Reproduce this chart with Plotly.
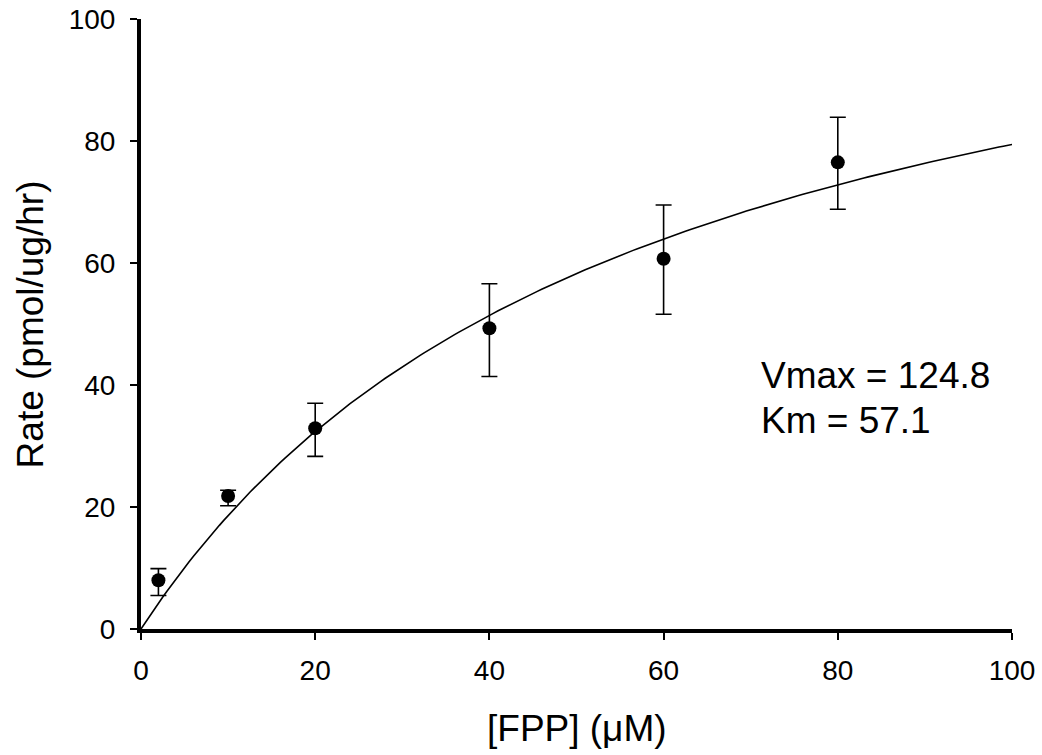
import numpy as np
import plotly.graph_objects as go

# Data
fpp = [2, 10, 20, 40, 60, 80]
rate = [8.0, 21.8, 32.9, 49.3, 60.7, 76.5]
err_plus = [1.9, 0.95, 4.1, 7.3, 8.8, 7.4]
err_minus = [2.5, 1.6, 4.6, 7.9, 9.1, 7.7]

# Michaelis-Menten fit parameters shown on the chart
VMAX = 124.8
KM = 57.1
fit_x = np.linspace(0, 100, 201)
fit_y = VMAX * fit_x / (KM + fit_x)

x_ticks = [0, 20, 40, 60, 80, 100]
y_ticks = [0, 20, 40, 60, 80, 100]

FONT = "Liberation Sans, Arial, sans-serif"

fig = go.Figure()
fig.add_trace(go.Scatter(
    x=fit_x, y=fit_y, mode="lines",
    line=dict(color="black", width=1.6),
    hoverinfo="skip", showlegend=False, cliponaxis=False,
))
fig.add_trace(go.Scatter(
    x=fpp, y=rate, mode="markers",
    marker=dict(color="black", size=14),
    error_y=dict(type="data", symmetric=False, array=err_plus, arrayminus=err_minus,
                 color="black", thickness=1.6, width=8),
    showlegend=False, cliponaxis=False,
))

fig.add_annotation(x=71.0, y=41.6, xref="x", yref="y", text="Vmax = 124.8",
                   showarrow=False, xanchor="left", yanchor="middle",
                   font=dict(family=FONT, size=37, color="black"))
fig.add_annotation(x=71.0, y=34.1, xref="x", yref="y", text="Km = 57.1",
                   showarrow=False, xanchor="left", yanchor="middle",
                   font=dict(family=FONT, size=37, color="black"))

# axis titles
fig.add_annotation(x=0.5, y=-0.163, xref="paper", yref="paper", text="[FPP] (μM)",
                   showarrow=False, xanchor="center", yanchor="middle",
                   font=dict(family=FONT, size=37, color="black"))
fig.add_annotation(x=-0.127, y=0.5, xref="paper", yref="paper", text="Rate (pmol/ug/hr)",
                   showarrow=False, xanchor="center", yanchor="middle", textangle=-90,
                   font=dict(family=FONT, size=37, color="black"))

fig.update_layout(
    width=1042, height=755,
    margin=dict(l=141, r=30, t=19, b=126, autoexpand=False),
    plot_bgcolor="white", paper_bgcolor="white",
    font=dict(family=FONT, color="black"),
    xaxis=dict(
        range=[0, 100], tickvals=x_ticks, ticktext=[str(v) for v in x_ticks],
        showgrid=False, zeroline=False, showline=True, linecolor="black", linewidth=4,
        ticks="outside", ticklen=7, tickwidth=1.5, tickcolor="black",
        tickfont=dict(size=28, family=FONT), ticklabelstandoff=6, automargin=False,
    ),
    yaxis=dict(
        range=[0, 100], tickvals=y_ticks, ticktext=[str(v) for v in y_ticks],
        showgrid=False, zeroline=False, showline=True, linecolor="black", linewidth=4,
        ticks="outside", ticklen=7, tickwidth=1.5, tickcolor="black",
        tickfont=dict(size=28, family=FONT), ticklabelstandoff=9, automargin=False,
    ),
)

fig.write_html("out.html")
